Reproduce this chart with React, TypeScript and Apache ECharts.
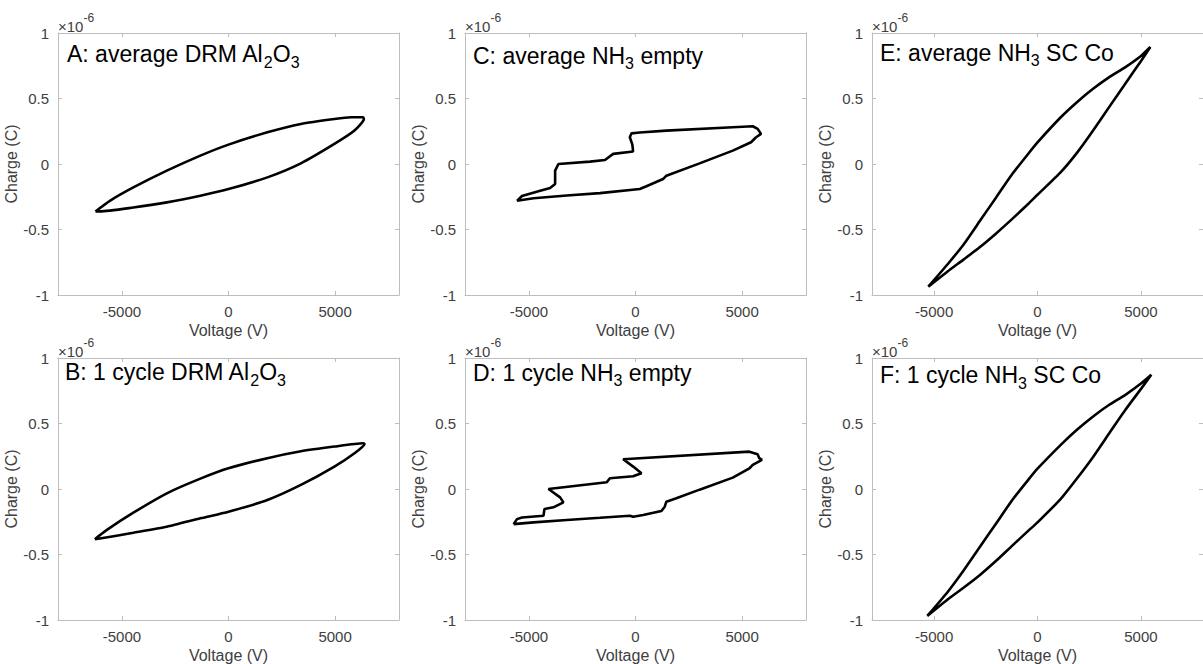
import React, { useEffect, useRef } from 'react';
import * as echarts from 'echarts';

// ---------- data (charge in units of 1e-6 C) ----------
const xTickValues = [-5000, 0, 5000];
const xMin = -8000;
const xMax = 8000;
const yMin = -1;
const yMax = 1;
const yStep = 0.5;
const xAxisTitle = 'Voltage (V)';
const yAxisTitle = 'Charge (C)';
const exponentBase = '×10';
const exponentPower = '-6';

const panelTitles = [
  'A: average DRM Al{s|2}O{s|3}',
  'C: average NH{s|3} empty',
  'E: average NH{s|3} SC Co',
  'B: 1 cycle DRM Al{s|2}O{s|3}',
  'D: 1 cycle NH{s|3} empty',
  'F: 1 cycle NH{s|3} SC Co',
];

const loopA = [
  [-6242, -0.362], [-5565, -0.281], [-4465, -0.179], [-2893, -0.051], [-1320, 0.064],
  [0, 0.148], [1824, 0.242], [3396, 0.306], [4968, 0.344], [5754, 0.357], [6304, 0.357],
  [6352, 0.344], [5911, 0.255], [4968, 0.153], [3396, 0.005], [1824, -0.102], [0, -0.191],
  [-1320, -0.242], [-2893, -0.293], [-4465, -0.332], [-6037, -0.362], [-6242, -0.362],
];

const loopB = [
  [-6273, -0.383], [-5722, -0.314], [-4465, -0.181], [-2893, -0.033], [-1320, 0.079],
  [0, 0.158], [1824, 0.235], [3396, 0.288], [4968, 0.324], [6304, 0.349], [6383, 0.344],
  [5911, 0.273], [4968, 0.171], [3396, 0.031], [1824, -0.084], [0, -0.173], [-1320, -0.224],
  [-2893, -0.288], [-4465, -0.334], [-6037, -0.378], [-6273, -0.383],
];

const loopC = [
  [-5561, -0.281], [-4783, -0.262], [-3225, -0.240], [-1667, -0.222], [201, -0.191],
  [514, -0.170], [1293, -0.115], [1449, -0.089], [3007, 0.005], [4565, 0.102], [5422, 0.166],
  [5656, 0.204], [5889, 0.230], [5733, 0.268], [5500, 0.288], [4565, 0.281], [1449, 0.255],
  [201, 0.240], [-187, 0.234], [-266, 0.204], [-150, 0.150], [-112, 0.096], [-1047, 0.077],
  [-1433, 0.031], [-2136, 0.018], [-3617, 0], [-3771, -0.051], [-3771, -0.153],
  [-4005, -0.184], [-4472, -0.204], [-5327, -0.244], [-5561, -0.281],
];

const loopD = [
  [-5720, -0.268], [-4783, -0.255], [-3225, -0.237], [-1667, -0.220], [-265, -0.204],
  [-109, -0.212], [358, -0.199], [1215, -0.168], [1371, -0.135], [1449, -0.097],
  [1916, -0.071], [3007, -0.005], [4565, 0.087], [5344, 0.158], [5422, 0.170], [5500, 0.184],
  [5933, 0.222], [5808, 0.235], [5730, 0.265], [5341, 0.285], [-579, 0.227], [-109, 0.171],
  [280, 0.120], [-112, 0.097], [-1201, 0.082], [-1355, 0.051], [-4084, 0], [-3537, -0.064],
  [-3383, -0.102], [-3851, -0.140], [-4271, -0.153], [-4318, -0.204], [-5327, -0.217],
  [-5561, -0.230], [-5720, -0.268],
];

const loopE = [
  [-5281, -0.936], [-4344, -0.765], [-3563, -0.612], [-2781, -0.434], [-2000, -0.255],
  [-1219, -0.077], [-438, 0.080], [0, 0.165], [1125, 0.357], [1906, 0.472], [2688, 0.574],
  [3469, 0.663], [4250, 0.740], [5031, 0.829], [5453, 0.893], [5031, 0.792], [4250, 0.615],
  [3469, 0.436], [2688, 0.256], [1906, 0.085], [1125, -0.062], [0, -0.235], [-438, -0.303],
  [-1219, -0.419], [-2000, -0.530], [-2781, -0.634], [-3563, -0.728], [-4344, -0.820],
  [-5281, -0.936],
];

const loopF = [
  [-5328, -0.969], [-4344, -0.786], [-3563, -0.620], [-2781, -0.441], [-2000, -0.263],
  [-1219, -0.084], [-438, 0.072], [0, 0.155], [1125, 0.337], [1906, 0.452], [2688, 0.554],
  [3469, 0.643], [4250, 0.719], [5031, 0.809], [5500, 0.872], [5031, 0.770], [4250, 0.605],
  [3469, 0.426], [2688, 0.245], [1906, 0.080], [1125, -0.075], [0, -0.255], [-438, -0.318],
  [-1219, -0.432], [-2000, -0.548], [-2781, -0.656], [-3563, -0.752], [-4344, -0.843],
  [-5328, -0.969],
];

const panelLoops = [loopA, loopC, loopE, loopB, loopD, loopF];
const panelSmooth = [0.2, 0, 0.2, 0.2, 0, 0.2];

// ---------- layout ----------
const FONT = "'Liberation Sans', Arial, Helvetica, sans-serif";
const TEXT = '#404040';
const AXIS = '#bdbdbd';
const colLefts = [58, 465, 872];
const rowTops = [33, 358];
const gridW = 341;
const gridH = 262;
// title anchor (left x, vertical centre of capitals) per panel
const titlePos = [
  [67, 54], [473, 55.5], [880, 52.5],
  [65, 372], [473, 372.5], [880, 375],
];

function buildOption() {
  const grid: any[] = [];
  const xAxis: any[] = [];
  const yAxis: any[] = [];
  const series: any[] = [];
  const graphic: any[] = [];

  for (let i = 0; i < 6; i++) {
    const r = Math.floor(i / 3);
    const c = i % 3;
    grid.push({ left: colLefts[c], top: rowTops[r], width: gridW, height: gridH, containLabel: false });
  }
  for (let i = 0; i < 6; i++) {
    xAxis.push({
      type: 'value', gridIndex: i, min: xMin, max: xMax, position: 'bottom',
      name: xAxisTitle, nameLocation: 'middle', nameGap: 27,
      nameTextStyle: { fontFamily: FONT, fontSize: 16, color: TEXT },
      axisLine: { show: true, onZero: false, lineStyle: { color: AXIS, width: 1 } },
      axisTick: { show: true, inside: true, length: 4, customValues: xTickValues, lineStyle: { color: AXIS } },
      axisLabel: {
        show: true, customValues: xTickValues, margin: 9, fontFamily: FONT, fontSize: 15, color: TEXT,
        formatter: (v: number) => String(v),
      },
      splitLine: { show: false },
    });
    yAxis.push({
      type: 'value', gridIndex: i, min: yMin, max: yMax, interval: yStep, position: 'left',
      name: yAxisTitle, nameLocation: 'middle', nameGap: 28, nameRotate: 90,
      nameTextStyle: { fontFamily: FONT, fontSize: 16, color: TEXT },
      axisLine: { show: true, onZero: false, lineStyle: { color: AXIS, width: 1 } },
      axisTick: { show: true, inside: true, length: 4, lineStyle: { color: AXIS } },
      axisLabel: { show: true, margin: 9, fontFamily: FONT, fontSize: 15, color: TEXT, formatter: (v: number) => String(v) },
      splitLine: { show: false },
    });
  }
  for (let i = 0; i < 6; i++) {
    xAxis.push({
      type: 'value', gridIndex: i, min: xMin, max: xMax, position: 'top',
      axisLine: { show: true, onZero: false, lineStyle: { color: AXIS, width: 1 } },
      axisTick: { show: true, inside: true, length: 4, customValues: xTickValues, lineStyle: { color: AXIS } },
      axisLabel: { show: false },
      splitLine: { show: false },
    });
    yAxis.push({
      type: 'value', gridIndex: i, min: yMin, max: yMax, interval: yStep, position: 'right',
      axisLine: { show: true, onZero: false, lineStyle: { color: AXIS, width: 1 } },
      axisTick: { show: true, inside: true, length: 4, lineStyle: { color: AXIS } },
      axisLabel: { show: false },
      splitLine: { show: false },
    });
  }
  for (let i = 0; i < 6; i++) {
    series.push({
      type: 'line', xAxisIndex: i, yAxisIndex: i, data: panelLoops[i],
      showSymbol: false, symbol: 'none', smooth: panelSmooth[i],
      lineStyle: { color: '#000000', width: 2.6 }, silent: true,
    });
    const r = Math.floor(i / 3);
    const c = i % 3;
    graphic.push({
      type: 'text', x: titlePos[i][0], y: titlePos[i][1],
      style: {
        text: panelTitles[i], fontFamily: FONT, fontSize: 23, lineHeight: 32,
        fill: '#000', verticalAlign: 'middle', align: 'left',
        rich: { s: { fontFamily: FONT, fontSize: 16, verticalAlign: 'bottom', fill: '#000' } },
      },
      z: 100,
    });
    graphic.push({
      type: 'text', x: colLefts[c], y: rowTops[r] - 7,
      style: {
        text: exponentBase + '{p|' + exponentPower + '}', fontFamily: FONT, fontSize: 15, lineHeight: 28,
        fill: TEXT, verticalAlign: 'middle', align: 'left',
        rich: { p: { fontFamily: FONT, fontSize: 12, verticalAlign: 'top', fill: TEXT } },
      },
      z: 100,
    });
  }
  return { animation: false, backgroundColor: '#ffffff', grid, xAxis, yAxis, series, graphic };
}

export default function App() {
  const ref = useRef<HTMLDivElement>(null);
  useEffect(() => {
    if (!ref.current) return;
    const chart = echarts.init(ref.current, undefined, { renderer: 'svg' });
    chart.setOption(buildOption() as any);
    return () => chart.dispose();
  }, []);
  return (
    <div
      ref={ref}
      style={{ position: 'absolute', left: 0, top: 0, width: 1203, height: 664, background: '#fff' }}
    />
  );
}
